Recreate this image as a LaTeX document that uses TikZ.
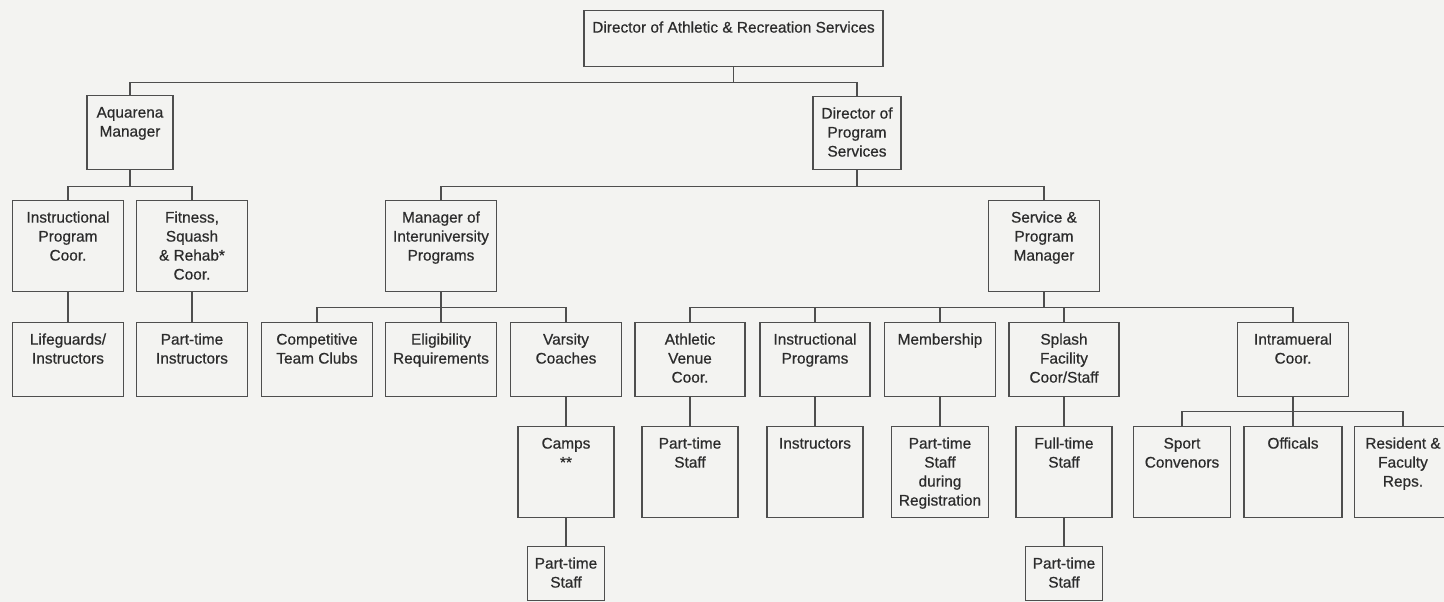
\documentclass[tikz,border=0pt]{standalone}
\usepackage{fontspec}
\setmainfont{Liberation Sans}[FakeBold=0.6]

\definecolor{linea}{HTML}{4E4E4E}
\definecolor{texto}{HTML}{2C2C2C}
\definecolor{fondo}{HTML}{F3F3F1}

\tikzset{
  puesto/.style={draw=linea, line width=1.2pt, inner sep=0pt, anchor=north,
    text=texto, font=\fontsize{15.4}{19}\selectfont},
  enlace/.style={draw=linea, line width=1.2pt},
}
\newcommand{\cargo}[3]{\parbox[t][#2][t]{#1}{\centering\rule{0pt}{22pt}#3}}

\begin{document}
\begin{tikzpicture}[x=1pt,y=-1pt]

    \def\filaA{200}
    \def\filaB{322}
    \def\filaC{426}
    \def\filaD{546}

    \fill[fondo] (0,0) rectangle (1444,602);
    \useasboundingbox (0,0) rectangle (1444,602);

    %Direccion
    \node[puesto] (dars) at (733.5,10) {\cargo{299pt}{56pt}{Director of Athletic \& Recreation Services}};
    \node[puesto] (aqua) at (130,95) {\cargo{86pt}{74pt}{Aquarena\\Manager}};
    \node[puesto] (dps) at (857,96) {\cargo{88pt}{73pt}{Director of\\Program\\Services}};

    %FilaA
    \node[puesto] (ipc) at (68,\filaA) {\cargo{111pt}{91pt}{Instructional\\Program\\Coor.}};
    \node[puesto] (fsr) at (192,\filaA) {\cargo{111pt}{91pt}{Fitness,\\Squash\\\& Rehab*\\Coor.}};
    \node[puesto] (miu) at (441,\filaA) {\cargo{111pt}{91pt}{Manager of\\Interuniversity\\Programs}};
    \node[puesto] (spm) at (1044,\filaA) {\cargo{111pt}{91pt}{Service \&\\Program\\Manager}};

    %FilaB
    \node[puesto] (life) at (68,\filaB) {\cargo{111pt}{74pt}{Lifeguards/\\Instructors}};
    \node[puesto] (ptinst) at (192,\filaB) {\cargo{111pt}{74pt}{Part-time\\Instructors}};
    \node[puesto] (comp) at (317,\filaB) {\cargo{111pt}{74pt}{Competitive\\Team Clubs}};
    \node[puesto] (elig) at (441,\filaB) {\cargo{111pt}{74pt}{Eligibility\\Requirements}};
    \node[puesto] (vars) at (566,\filaB) {\cargo{111pt}{74pt}{Varsity\\Coaches}};
    \node[puesto] (avc) at (690,\filaB) {\cargo{110pt}{74pt}{Athletic\\Venue\\Coor.}};
    \node[puesto] (iprog) at (815,\filaB) {\cargo{110pt}{74pt}{Instructional\\Programs}};
    \node[puesto] (memb) at (940,\filaB) {\cargo{111pt}{74pt}{Membership}};
    \node[puesto] (splash) at (1064,\filaB) {\cargo{110pt}{74pt}{Splash\\Facility\\Coor/Staff}};
    \node[puesto] (intra) at (1293,\filaB) {\cargo{111pt}{74pt}{Intramueral\\Coor.}};

    %FilaC
    \node[puesto] (camps) at (566,\filaC) {\cargo{96pt}{91pt}{Camps\\{}**}};
    \node[puesto] (ptsa) at (690,\filaC) {\cargo{96pt}{91pt}{Part-time\\Staff}};
    \node[puesto] (instr) at (815,\filaC) {\cargo{96pt}{91pt}{Instructors}};
    \node[puesto] (ptreg) at (940,\filaC) {\cargo{97pt}{91pt}{Part-time\\Staff\\during\\Registration}};
    \node[puesto] (ftstaff) at (1064,\filaC) {\cargo{96pt}{91pt}{Full-time\\Staff}};
    \node[puesto] (sport) at (1182,\filaC) {\cargo{97pt}{91pt}{Sport\\Convenors}};
    \node[puesto] (offic) at (1293,\filaC) {\cargo{98pt}{91pt}{Officals}};
    \node[puesto] (resid) at (1403,\filaC) {\cargo{97pt}{91pt}{Resident \&\\Faculty\\Reps.}};

    %FilaD
    \node[puesto] (ptcamp) at (566,\filaD) {\cargo{77pt}{54pt}{Part-time\\Staff}};
    \node[puesto] (ptfull) at (1064,\filaD) {\cargo{77pt}{54pt}{Part-time\\Staff}};

    %Enlaces
    \foreach \c in {aqua,dps}
        \draw[enlace] (dars.south) -- ++(0,15) -| (\c.north);
    \foreach \c in {ipc,fsr}
        \draw[enlace] (aqua.south) -- ++(0,16) -| (\c.north);
    \foreach \c in {miu,spm}
        \draw[enlace] (dps.south) -- ++(0,16) -| (\c.north);
    \foreach \c in {comp,elig,vars}
        \draw[enlace] (miu.south) -- ++(0,15) -| (\c.north);
    \foreach \c in {avc,iprog,memb,splash,intra}
        \draw[enlace] (spm.south) -- ++(0,15) -| (\c.north);
    \foreach \c in {sport,offic,resid}
        \draw[enlace] (intra.south) -- ++(0,14) -| (\c.north);
    \foreach \a/\b in {ipc/life,fsr/ptinst,vars/camps,camps/ptcamp,avc/ptsa,iprog/instr,memb/ptreg,splash/ftstaff,ftstaff/ptfull}
        \draw[enlace] (\a.south) -- (\b.north);

\end{tikzpicture}
\end{document}
